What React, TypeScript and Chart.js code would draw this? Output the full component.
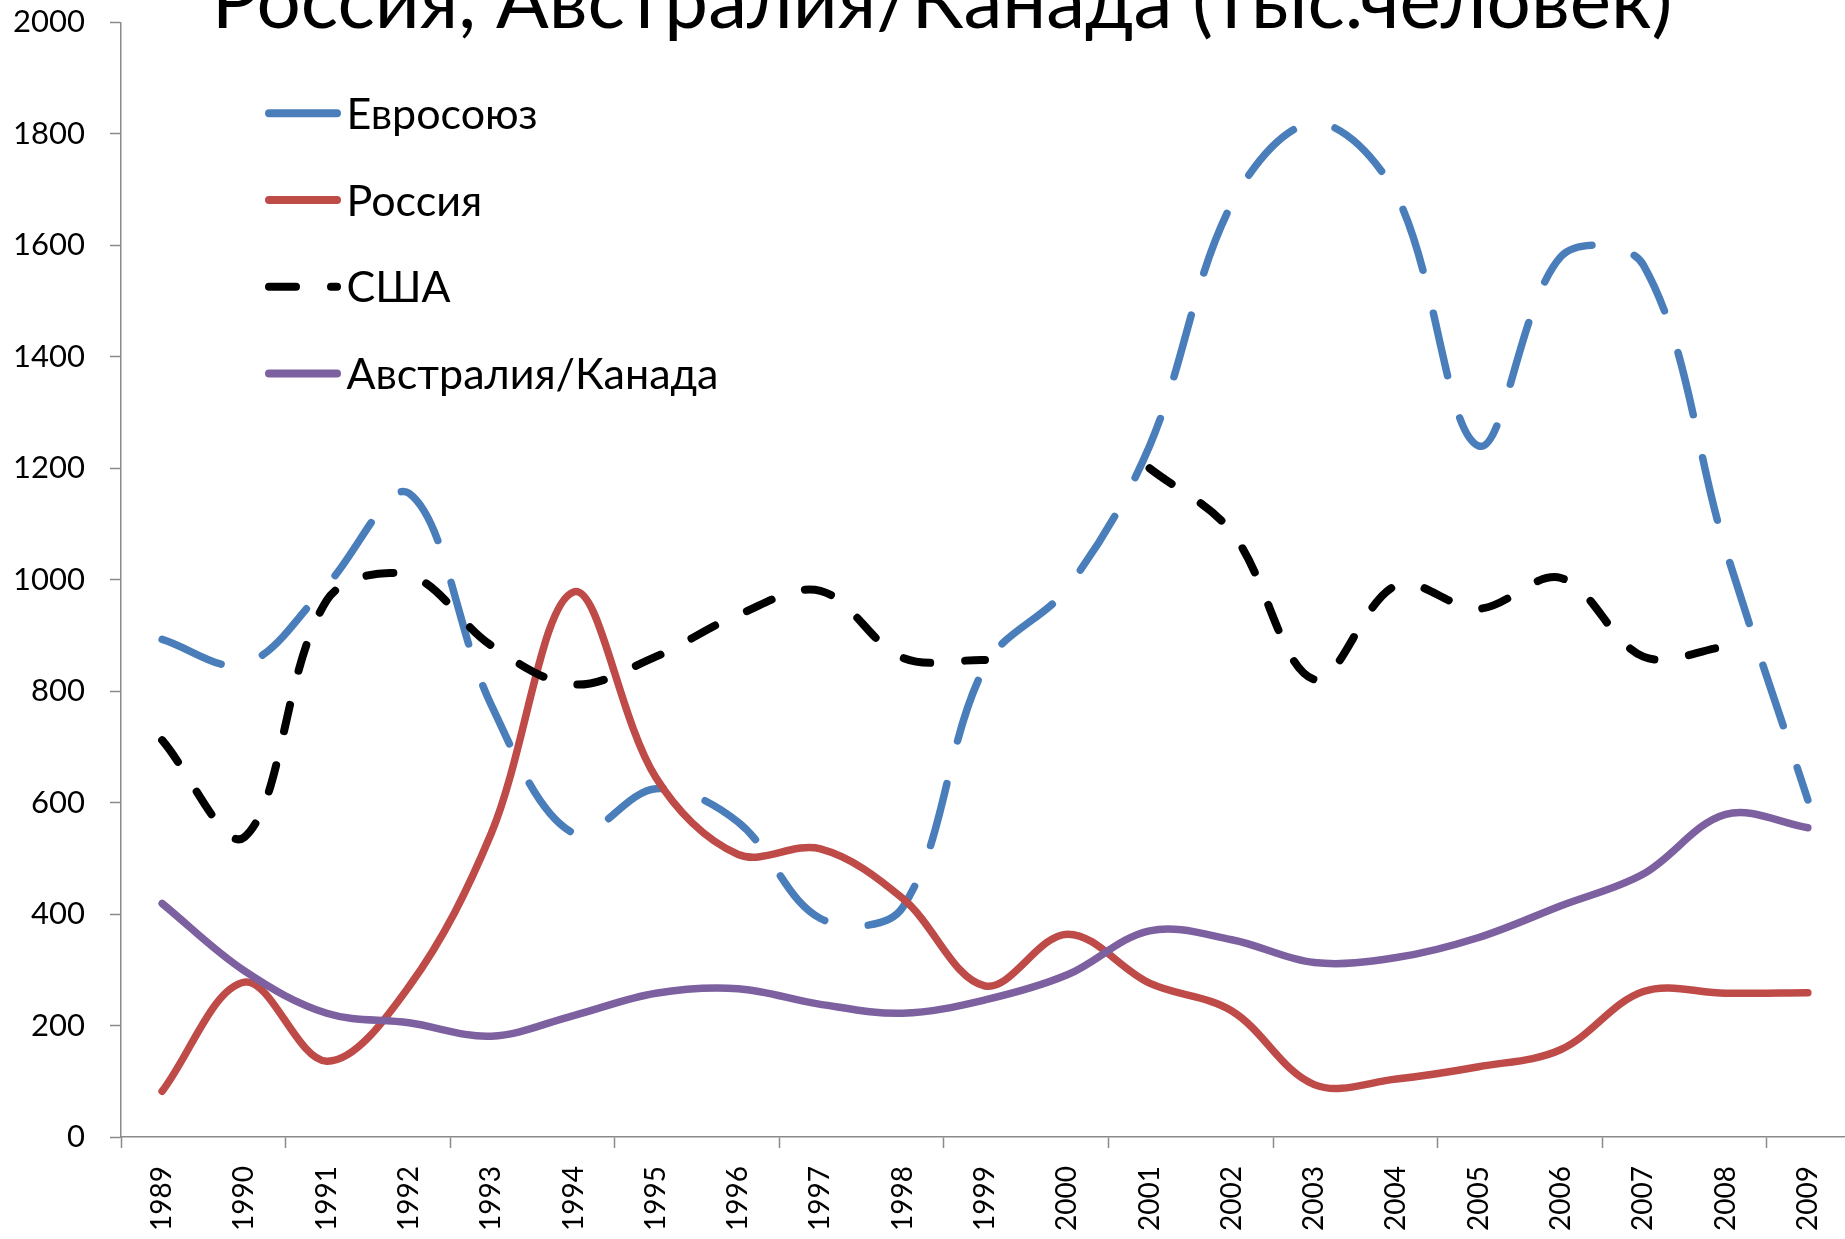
import React, { useEffect, useRef } from 'react';
import { Chart, registerables } from 'chart.js';

Chart.register(...registerables);

const years = ['1989', '1990', '1991', '1992', '1993', '1994', '1995', '1996', '1997', '1998', '1999', '2000', '2001', '2002', '2003', '2004', '2005', '2006', '2007', '2008', '2009'];
const euValues = [893, 848, 990, 1155, 775, 545, 625, 565, 392, 412, 845, 985, 1240, 1675, 1820, 1690, 1240, 1580, 1565, 1055, 605];
const russiaValues = [82, 278, 136, 270, 545, 978, 645, 507, 517, 428, 271, 364, 276, 226, 94, 104, 126, 157, 261, 258, 259];
const usaValues = [712, 538, 963, 1008, 882, 812, 862, 937, 980, 860, 856, null, 1200, 1085, 821, 990, 948, 1003, 862, 880, null];
const ausCanValues = [419, 298, 222, 205, 181, 218, 258, 266, 238, 222, 246, 291, 370, 354, 313, 322, 358, 415, 472, 579, 555];
const yTickValues = [0, 200, 400, 600, 800, 1000, 1200, 1400, 1600, 1800, 2000];
const seriesNames = ['Евросоюз', 'Россия', 'США', 'Австралия/Канада'];
const titleText = 'Россия, Австралия/Канада (тыс.человек)';

const FONT = 'Lato, "Open Sans", "Noto Sans", sans-serif';
const AXIS_GREY = '#8a8a8a';

const overlayPlugin = {
  id: 'titleAndLegend',
  afterDraw(chart: any) {
    const ctx = chart.ctx as CanvasRenderingContext2D;
    ctx.save();
    // Title (its upper part is cut off by the top edge, as in the reference)
    ctx.font = `100px ${FONT}`;
    const tw = ctx.measureText(titleText).width;
    const titleSize = (100 * 1461) / tw;
    ctx.font = `${titleSize}px ${FONT}`;
    ctx.fillStyle = '#000';
    ctx.textAlign = 'center';
    ctx.textBaseline = 'alphabetic';
    ctx.fillText(titleText, 942, 28);

    // Legend inside the plot area
    ctx.font = `100px ${FONT}`;
    const lw = ctx.measureText(seriesNames[3]).width;
    const legendSize = (100 * 372) / lw;
    ctx.font = `${legendSize}px ${FONT}`;
    const cap = ctx.measureText('Е').actualBoundingBoxAscent;
    ctx.textAlign = 'left';
    chart.data.datasets.forEach((ds: any, i: number) => {
      const y = 113.3 + i * 86.7;
      ctx.beginPath();
      ctx.strokeStyle = ds.borderColor;
      ctx.lineWidth = 8;
      ctx.lineCap = 'round';
      ctx.setLineDash(ds.label === 'США' ? ds.borderDash : []);
      ctx.moveTo(269, y);
      ctx.lineTo(337, y);
      ctx.stroke();
      ctx.setLineDash([]);
      ctx.fillStyle = '#000';
      ctx.fillText(ds.label, 346.5, y + cap / 2);
    });
    ctx.restore();
  },
};

export default function App() {
  const canvasRef = useRef<HTMLCanvasElement>(null);

  useEffect(() => {
    if (!canvasRef.current) return;
    const chart = new Chart(canvasRef.current, {
      type: 'line',
      data: {
        labels: years,
        datasets: [
          {
            label: seriesNames[0],
            data: euValues,
            borderColor: '#4A7EBB',
            borderWidth: 7.5,
            borderDash: [64, 44],
            order: 3,
          },
          {
            label: seriesNames[1],
            data: russiaValues,
            borderColor: '#BE4B48',
            borderWidth: 7.5,
            order: 2,
          },
          {
            label: seriesNames[2],
            data: usaValues,
            borderColor: '#000000',
            borderWidth: 8,
            borderDash: [27, 35],
            spanGaps: false,
            order: 1,
          },
          {
            label: seriesNames[3],
            data: ausCanValues,
            borderColor: '#7D60A0',
            borderWidth: 7.5,
            order: 0,
          },
        ],
      },
      options: {
        responsive: false,
        animation: false,
        layout: { padding: { top: 22.4, left: 0, right: 0, bottom: 0 } },
        elements: {
          point: { radius: 0, hoverRadius: 0 },
          line: { tension: 0.35, borderCapStyle: 'round', borderJoinStyle: 'round', fill: false },
        },
        plugins: {
          legend: { display: false },
          title: { display: false },
          tooltip: { enabled: false },
        },
        scales: {
          x: {
            type: 'category',
            offset: true,
            grid: {
              offset: true,
              drawOnChartArea: false,
              drawTicks: true,
              tickLength: 11,
              tickWidth: 1.5,
              tickColor: (c: any) => (c.index % 2 === 0 ? AXIS_GREY : 'rgba(0,0,0,0)'),
            },
            border: { display: true, color: AXIS_GREY, width: 1.5 },
            ticks: {
              autoSkip: false,
              minRotation: 90,
              maxRotation: 90,
              padding: 18,
              color: '#000',
              font: { family: FONT, size: 28 },
            },
            afterFit: (s: any) => {
              s.height = 102;
              s.paddingLeft = 0;
              s.paddingRight = 0;
            },
          },
          y: {
            min: 0,
            max: 2000,
            afterBuildTicks: (s: any) => {
              s.ticks = yTickValues.map((v) => ({ value: v }));
            },
            grid: {
              drawOnChartArea: false,
              drawTicks: true,
              tickLength: 11,
              tickWidth: 1.5,
              tickColor: AXIS_GREY,
            },
            border: { display: true, color: AXIS_GREY, width: 1.5 },
            ticks: {
              padding: 25,
              color: '#000',
              font: { family: FONT, size: 31 },
              callback: (v: any) => String(v),
            },
            afterFit: (s: any) => {
              s.width = 121;
              s.paddingTop = 0;
              s.paddingBottom = 0;
            },
          },
        },
      },
      plugins: [overlayPlugin],
    } as any);
    return () => chart.destroy();
  }, []);

  return (
    <div
      style={{
        position: 'fixed',
        left: 0,
        top: 0,
        width: 1845,
        height: 1239,
        overflow: 'hidden',
        background: '#ffffff',
      }}
    >
      <canvas ref={canvasRef} width={1849} height={1239} style={{ display: 'block' }} />
    </div>
  );
}
